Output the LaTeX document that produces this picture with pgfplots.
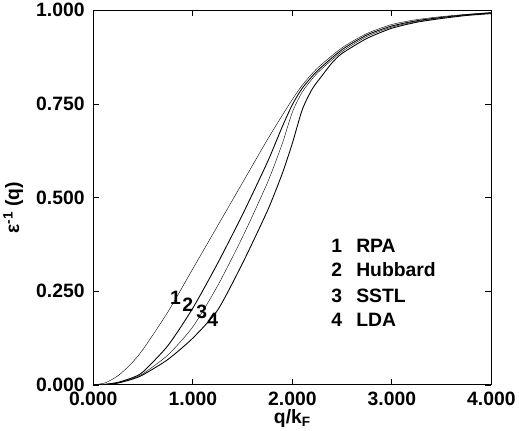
\documentclass[border=0pt]{standalone}
\usepackage{fontspec}
\setmainfont{Liberation Sans}
\usepackage{pgfplots}
\pgfplotsset{compat=1.18}

\begin{document}
\begin{tikzpicture}
\begin{axis}[
    width=391pt, height=368pt, scale only axis,
    xmin=0, xmax=4, ymin=0, ymax=1,
    xtick={0,1,2,3,4},
    ytick={0,0.25,0.5,0.75,1},
    tick align=inside,
    major tick length=6pt,
    tick style={black, line width=0.8pt},
    axis line style={line width=1.1pt},
    /pgf/number format/fixed,
    /pgf/number format/fixed zerofill,
    /pgf/number format/precision=3,
    /pgf/number format/assume math mode=true,
    tick label style={font=\fontsize{19}{22}\selectfont\bfseries},
    yticklabel style={xshift=-5pt},
    xticklabel style={yshift=-3pt},
    label style={font=\fontsize{19}{22}\selectfont\bfseries},
    xlabel={q/k\textsubscript{F}},
    ylabel={ε\textsuperscript{-1} (q)},
    xlabel style={yshift=3pt},
    ylabel style={yshift=6pt, xshift=-10pt},
    cycle list={{black, line width=0.85pt}},
    every axis plot/.append style={smooth, tension=0.4, no marks},
]
% 1 RPA
\addplot coordinates {(0,0) (0.125,0.006) (0.25,0.025) (0.375,0.055) (0.5,0.095) (0.75,0.195) (1.0,0.31) (1.25,0.425) (1.5,0.54) (1.75,0.655) (1.9,0.72) (2.0,0.762) (2.1,0.80) (2.25,0.845) (2.5,0.90) (2.75,0.938) (3.0,0.962) (3.25,0.975) (3.5,0.983) (3.75,0.989) (4.0,0.994)};
% 2 Hubbard
\addplot coordinates {(0,0) (0.125,0.002) (0.25,0.007) (0.4,0.02) (0.5,0.035) (0.75,0.105) (1.0,0.205) (1.25,0.325) (1.5,0.455) (1.75,0.595) (1.9,0.69) (2.0,0.748) (2.1,0.792) (2.25,0.838) (2.5,0.895) (2.75,0.934) (3.0,0.958) (3.25,0.972) (3.5,0.981) (3.75,0.988) (4.0,0.993)};
% 3 SSTL
\addplot coordinates {(0,0) (0.125,0.0015) (0.25,0.006) (0.4,0.018) (0.5,0.03) (0.75,0.08) (1.0,0.155) (1.25,0.265) (1.5,0.395) (1.75,0.54) (1.9,0.645) (2.0,0.728) (2.1,0.782) (2.25,0.832) (2.5,0.89) (2.75,0.930) (3.0,0.955) (3.25,0.970) (3.5,0.980) (3.75,0.987) (4.0,0.992)};
% 4 LDA
\addplot coordinates {(0,0) (0.125,0.001) (0.25,0.005) (0.4,0.016) (0.5,0.027) (0.75,0.068) (1.0,0.125) (1.25,0.2) (1.5,0.325) (1.75,0.465) (1.9,0.565) (2.0,0.645) (2.1,0.735) (2.2,0.79) (2.3,0.826) (2.4,0.86) (2.5,0.885) (2.75,0.925) (3.0,0.952) (3.25,0.968) (3.5,0.978) (3.75,0.986) (4.0,0.991)};

\begin{scope}[every node/.style={font=\fontsize{19}{22}\selectfont\bfseries, inner sep=0pt}]
\node at (axis cs:0.825,0.232) {1};
\node at (axis cs:0.95,0.214) {2};
\node at (axis cs:1.09,0.196) {3};
\node at (axis cs:1.20,0.173) {4};
\node[anchor=west] at (axis cs:2.39,0.370) {1};
\node[anchor=west] at (axis cs:2.39,0.307) {2};
\node[anchor=west] at (axis cs:2.39,0.239) {3};
\node[anchor=west] at (axis cs:2.39,0.174) {4};
\node[anchor=west] at (axis cs:2.64,0.370) {RPA};
\node[anchor=west] at (axis cs:2.64,0.307) {Hubbard};
\node[anchor=west] at (axis cs:2.64,0.239) {SSTL};
\node[anchor=west] at (axis cs:2.64,0.174) {LDA};
\end{scope}
\end{axis}
\end{tikzpicture}
\end{document}
